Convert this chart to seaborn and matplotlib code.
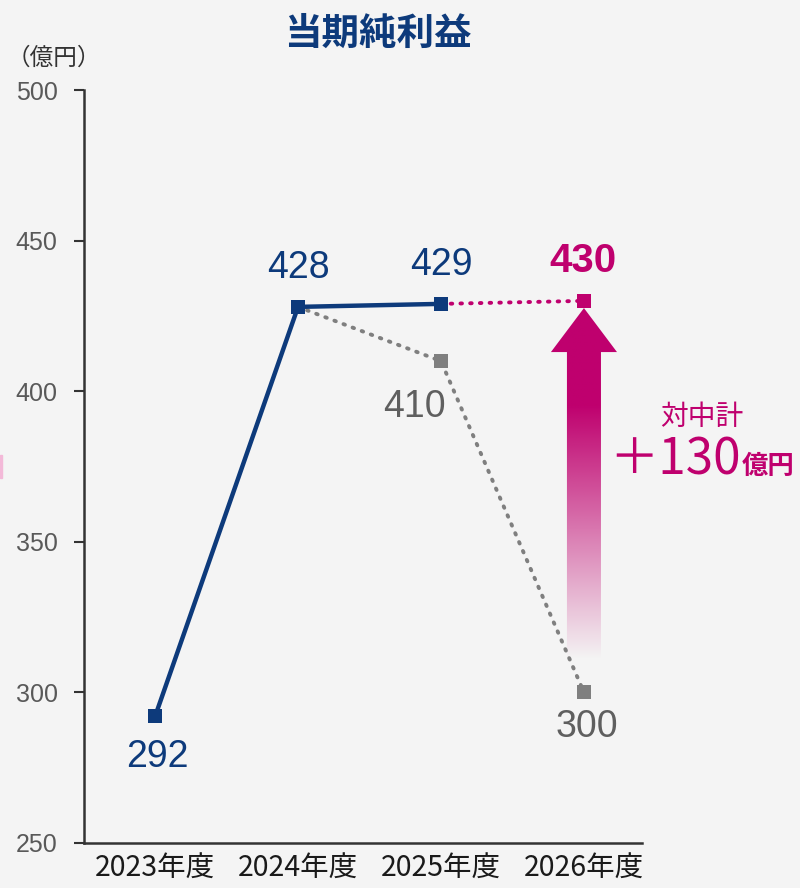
import numpy as np
import pandas as pd
import matplotlib
matplotlib.use("Agg")
import matplotlib.pyplot as plt
from matplotlib.patches import Polygon, Rectangle
import seaborn as sns

# ---- data -------------------------------------------------------------
years = ["2023年度", "2024年度", "2025年度", "2026年度"]
actual = [292, 428, 429]              # 実績 (2023-2025)
plan_mid = [428, 410, 300]            # 中期計画 (2024-2026)
plan_new = [429, 430]                 # 新計画 (2025-2026)
y_ticks = [250, 300, 350, 400, 450, 500]
delta_text = "＋130"

NAVY = "#0d3a7b"
GRAY = "#7f7f7f"
MAGENTA = "#bf006e"
BG = "#f4f4f4"

sns.set_theme(style="white")
plt.rcParams["font.family"] = ["Liberation Sans", "Noto Sans CJK JP", "DejaVu Sans"]
JP = ["Noto Sans CJK JP", "DejaVu Sans"]

fig = plt.figure(figsize=(8, 8.88), dpi=100, facecolor=BG)
ax = fig.add_axes([0.105, 0.0507, 0.6975, 0.8479])
ax.set_facecolor(BG)

df_actual = pd.DataFrame({"x": [0, 1, 2], "v": actual})
df_mid = pd.DataFrame({"x": [1, 2, 3], "v": plan_mid})
df_new = pd.DataFrame({"x": [2, 3], "v": plan_new})

sns.lineplot(data=df_mid, x="x", y="v", ax=ax, color=GRAY, lw=2.8,
             linestyle=(0, (0.4, 2.1)), dash_capstyle="round", marker="s",
             markersize=9.5, markeredgewidth=0, zorder=3)
sns.lineplot(data=df_new, x="x", y="v", ax=ax, color=MAGENTA, lw=2.8,
             linestyle=(0, (0.4, 2.1)), dash_capstyle="round", marker="s",
             markersize=9.5, markeredgewidth=0, zorder=3)
sns.lineplot(data=df_actual, x="x", y="v", ax=ax, color=NAVY, lw=3.2,
             marker="s", markersize=10, markeredgewidth=0, zorder=4)

# value labels
def lab(x, v, dx, dy, color, bold=False, size=27):
    ax.annotate(str(v), (x, v), xytext=(dx, dy), textcoords="offset points",
                ha="center", va="center", fontsize=size, color=color,
                fontweight="bold" if bold else "normal", zorder=6)

lab(0, actual[0], 2, -29, NAVY)
lab(1, actual[1], 0, 28, NAVY)
lab(2, actual[2], 0, 28, NAVY)
lab(2, plan_mid[1], -19, -33, "#5f5f5f")
lab(3, plan_mid[2], 2, -25, "#5f5f5f")
lab(3, plan_new[1], -1, 29, MAGENTA, bold=True, size=29)

# gradient arrow from 300 up to 430
tip, head_base, tail = 427.6, 413.0, 310.8
hw_shaft, hw_head = 0.119, 0.231
cx = 3
verts = [(cx - hw_shaft, tail), (cx - hw_shaft, head_base), (cx - hw_head, head_base),
         (cx, tip), (cx + hw_head, head_base), (cx + hw_shaft, head_base),
         (cx + hw_shaft, tail)]
arrow = Polygon(verts, closed=True, facecolor="none", edgecolor="none")
ax.add_patch(arrow)
yy = np.linspace(tail, tip, 300)
alpha = np.clip((yy - tail) / (395 - tail), 0, 1)
rgba = np.zeros((300, 2, 4))
rgba[..., :3] = matplotlib.colors.to_rgb(MAGENTA)
rgba[..., 3] = alpha[:, None]
im = ax.imshow(rgba, extent=[cx - hw_head, cx + hw_head, tail, tip], origin="lower",
               aspect="auto", zorder=2, interpolation="bilinear")
im.set_clip_path(arrow)

# axes styling
ax.set_xlim(-0.497, 3.406)
ax.set_ylim(250, 500)
ax.set_yticks(y_ticks)
ax.set_yticklabels([str(t) for t in y_ticks], fontsize=18, color="#595959")
ax.set_xticks(range(len(years)))
ax.set_xticklabels(years, fontsize=20.5, color="#1a1a1a", family=JP)
ax.tick_params(axis="y", length=7, width=1.5, color="#333333", pad=12, left=True)
ax.tick_params(axis="x", length=0, pad=8)
for s in ["top", "right"]:
    ax.spines[s].set_visible(False)
for s in ["left", "bottom"]:
    ax.spines[s].set_color("#333333")
    ax.spines[s].set_linewidth(1.8)
ax.set_xlabel("")
ax.set_ylabel("")
ax.grid(False)

# titles and notes
fig.text(0.4725, 0.963, "当期純利益", ha="center", va="center", fontsize=27,
         fontweight="bold", color=NAVY, family=JP)
fig.text(0.008, 0.934, "（億円）", ha="left", va="center", fontsize=17,
         color="#333333", family=JP)
fig.text(0.877, 0.530, "対中計", ha="center", va="center", fontsize=20,
         color=MAGENTA, family=JP)
fig.text(0.762, (888 - 474) / 888, delta_text, ha="left", va="baseline",
         fontsize=35.5, color=MAGENTA, family=JP)
fig.text(0.927, (888 - 474) / 888, "億円", ha="left", va="baseline", fontsize=19,
         fontweight="bold", color=MAGENTA, family=JP)

fig.patches.append(Rectangle((0, (888 - 478) / 888), 2 / 800, 23 / 888,
                             transform=fig.transFigure, color="#f3b9d8",
                             zorder=0))

fig.savefig("out.png", dpi=100, facecolor=BG)
